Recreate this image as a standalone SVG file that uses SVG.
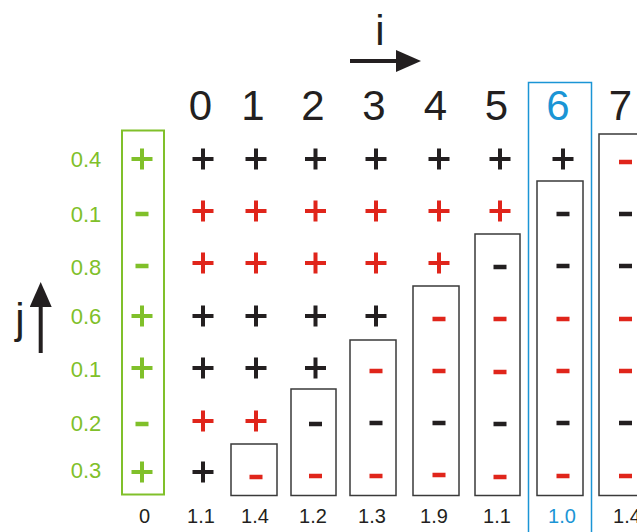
<svg xmlns="http://www.w3.org/2000/svg" xmlns:xlink="http://www.w3.org/1999/xlink" width="637" height="532" viewBox="0 0 637 532">
<style>
text{font-family:"Liberation Sans",Arial,sans-serif;text-anchor:middle}
.hd{font-size:42px;fill:#231f20}
.ax{font-size:42px;fill:#231f20}
.gl{font-size:22px;fill:#80c02a}
.bt{font-size:20px;fill:#231f20}
.blue{fill:#1b95d5}
.k{stroke:#231f20;fill:#231f20}
.r{stroke:#e0251b;fill:#e0251b}
.g{stroke:#80c02a;fill:#80c02a}
.box{fill:none;stroke:#3a3a3a;stroke-width:1.5}
.arr{stroke:#231f20;stroke-width:4;fill:none}
</style>
<defs>
<path id="plus" d="M-10.5 0H10.5M0-10.5V10.5" fill="none" stroke-width="4"/>
<rect id="minus" x="-6.5" y="-2.25" width="13" height="4.5" stroke="none"/>
<marker id="head" markerUnits="userSpaceOnUse" markerWidth="25" markerHeight="22" refX="4" refY="11" orient="auto">
<path d="M0 0L25 11L0 22z" fill="#231f20"/>
</marker>
</defs>
<rect width="637" height="532" fill="#fff"/>

<g id="connectors">
<line class="arr" x1="350" y1="61" x2="400" y2="61" marker-end="url(#head)"/>
<line class="arr" x1="40.7" y1="353" x2="40.7" y2="303" marker-end="url(#head)"/>
</g>

<g id="axis-i"><text class="ax" x="380" y="45">i</text></g>
<g id="axis-j"><text class="ax" x="20" y="333">j</text></g>

<g id="weights">
<text class="gl" x="86" y="167">0.4</text>
<text class="gl" x="86" y="222">0.1</text>
<text class="gl" x="86" y="275">0.8</text>
<text class="gl" x="86" y="324">0.6</text>
<text class="gl" x="86" y="377">0.1</text>
<text class="gl" x="86" y="431">0.2</text>
<text class="gl" x="86" y="478">0.3</text>
</g>

<g id="labels-col">
<rect x="122" y="130.5" width="42" height="364" fill="none" stroke="#80c02a" stroke-width="2"/>
<use href="#plus" x="142" y="159" class="g"/>
<use href="#minus" x="142" y="214" class="g"/>
<use href="#minus" x="142" y="266" class="g"/>
<use href="#plus" x="142" y="316" class="g"/>
<use href="#plus" x="142" y="368" class="g"/>
<use href="#minus" x="142" y="424" class="g"/>
<use href="#plus" x="142" y="472" class="g"/>
<text class="bt" x="144.5" y="523">0</text>
</g>

<g id="col0">
<text class="hd" x="200.5" y="120">0</text>
<use href="#plus" x="203" y="159" class="k"/>
<use href="#plus" x="203" y="211" class="r"/>
<use href="#plus" x="203" y="263" class="r"/>
<use href="#plus" x="203" y="316" class="k"/>
<use href="#plus" x="203" y="368" class="k"/>
<use href="#plus" x="203" y="421" class="r"/>
<use href="#plus" x="203" y="472" class="k"/>
<text class="bt" x="201" y="523">1.1</text>
</g>

<g id="col1">
<text class="hd" x="253" y="120">1</text>
<rect class="box" x="231" y="444" width="46" height="51.5"/>
<use href="#plus" x="256" y="159" class="k"/>
<use href="#plus" x="256" y="211" class="r"/>
<use href="#plus" x="256" y="263" class="r"/>
<use href="#plus" x="256" y="316" class="k"/>
<use href="#plus" x="256" y="368" class="k"/>
<use href="#plus" x="256" y="421" class="r"/>
<use href="#minus" x="256" y="477" class="r"/>
<text class="bt" x="255" y="523">1.4</text>
</g>

<g id="col2">
<text class="hd" x="313" y="120">2</text>
<rect class="box" x="291" y="389" width="45" height="106.5"/>
<use href="#plus" x="315.5" y="159" class="k"/>
<use href="#plus" x="315.5" y="211" class="r"/>
<use href="#plus" x="315.5" y="263" class="r"/>
<use href="#plus" x="315.5" y="316" class="k"/>
<use href="#plus" x="315.5" y="368" class="k"/>
<use href="#minus" x="315.5" y="424" class="k"/>
<use href="#minus" x="315.5" y="476" class="r"/>
<text class="bt" x="313" y="523">1.2</text>
</g>

<g id="col3">
<text class="hd" x="374" y="120">3</text>
<rect class="box" x="350" y="340" width="46" height="155.5"/>
<use href="#plus" x="376" y="159" class="k"/>
<use href="#plus" x="376" y="211" class="r"/>
<use href="#plus" x="376" y="263" class="r"/>
<use href="#plus" x="376" y="316" class="k"/>
<use href="#minus" x="376" y="371" class="r"/>
<use href="#minus" x="376" y="423" class="k"/>
<use href="#minus" x="376" y="476" class="r"/>
<text class="bt" x="372" y="523">1.3</text>
</g>

<g id="col4">
<text class="hd" x="435.5" y="120">4</text>
<rect class="box" x="413" y="286" width="46" height="209.5"/>
<use href="#plus" x="439" y="159" class="k"/>
<use href="#plus" x="439" y="211" class="r"/>
<use href="#plus" x="439" y="263" class="r"/>
<use href="#minus" x="439" y="319" class="r"/>
<use href="#minus" x="439" y="371" class="r"/>
<use href="#minus" x="439" y="423" class="k"/>
<use href="#minus" x="439" y="475" class="r"/>
<text class="bt" x="434" y="523">1.9</text>
</g>

<g id="col5">
<text class="hd" x="496.5" y="120">5</text>
<rect class="box" x="475" y="234" width="45" height="261.5"/>
<use href="#plus" x="500" y="159" class="k"/>
<use href="#plus" x="500" y="211" class="r"/>
<use href="#minus" x="500" y="267" class="k"/>
<use href="#minus" x="500" y="319" class="r"/>
<use href="#minus" x="500" y="372" class="r"/>
<use href="#minus" x="500" y="424" class="k"/>
<use href="#minus" x="500" y="477" class="r"/>
<text class="bt" x="497" y="523">1.1</text>
</g>

<g id="col6">
<rect x="528.5" y="82.5" width="63" height="460" fill="none" stroke="#1b95d5" stroke-width="1.5"/>
<text class="hd blue" x="558" y="120">6</text>
<rect class="box" x="537" y="181" width="46" height="314.5"/>
<use href="#plus" x="563" y="159" class="k"/>
<use href="#minus" x="563" y="214" class="k"/>
<use href="#minus" x="563" y="266" class="k"/>
<use href="#minus" x="563" y="319" class="r"/>
<use href="#minus" x="563" y="371" class="r"/>
<use href="#minus" x="563" y="423" class="k"/>
<use href="#minus" x="563" y="476" class="r"/>
<text class="bt blue" x="562" y="523">1.0</text>
</g>

<g id="col7">
<text class="hd" x="620.5" y="120">7</text>
<rect class="box" x="599" y="134" width="46" height="361.5"/>
<use href="#minus" x="625.5" y="162" class="r"/>
<use href="#minus" x="625.5" y="214" class="k"/>
<use href="#minus" x="625.5" y="266" class="k"/>
<use href="#minus" x="625.5" y="319" class="r"/>
<use href="#minus" x="625.5" y="371" class="r"/>
<use href="#minus" x="625.5" y="423" class="k"/>
<use href="#minus" x="625.5" y="476" class="r"/>
<text class="bt" x="627" y="523">1.4</text>
</g>
</svg>
